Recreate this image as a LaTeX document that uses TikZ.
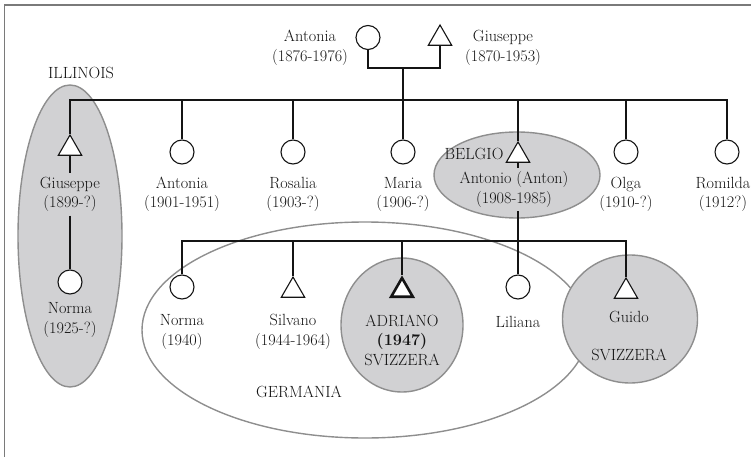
\documentclass[tikz,border=0pt]{standalone}
\usetikzlibrary{shapes.geometric}
\definecolor{regionfill}{HTML}{D1D1D3}
\definecolor{regionline}{HTML}{8E8E8E}
\definecolor{framegray}{HTML}{7A7A7A}
\definecolor{inkcol}{HTML}{141414}
\tikzset{
  fem/.style={circle, draw=inkcol, fill=white, line width=1.1pt, minimum size=24pt, inner sep=0pt},
  mal/.style={regular polygon, regular polygon sides=3, draw=inkcol, fill=white, line width=1.1pt, minimum size=27pt, inner sep=0pt},
  egomal/.style={mal, line width=2.6pt, minimum size=25pt},
  lbl/.style={align=center, text=inkcol, font=\fontsize{16.2}{19.5}\selectfont, inner sep=3.5pt},
  region/.style={ellipse, draw=regionline, fill=regionfill, line width=1.4pt, inner sep=0pt},
  hollowregion/.style={ellipse, draw=regionline, line width=1.4pt, inner sep=0pt},
  link/.style={draw=inkcol, line width=1.1pt},
}
\begin{document}
\begin{tikzpicture}[x=1pt,y=-1pt]
\useasboundingbox (0,0) rectangle (751,457);
% frame
\draw[framegray, line width=1.3pt] (4.5,458) -- (4.5,5) -- (752,5);

% regions
\node[hollowregion, minimum width=446pt, minimum height=216pt] (germania) at (365,330) {};
\node[region, minimum width=104pt, minimum height=302pt] (illinois) at (70,236) {};
\node[region, minimum width=166pt, minimum height=86pt] (belgio) at (517,175) {};
\node[region, minimum width=122pt, minimum height=134pt] (adrianoreg) at (402,325) {};
\node[region, minimum width=135pt, minimum height=128pt] (guidoreg) at (630,319) {};

% symbols generation 1
\node[fem] (antonia0) at (368,37.5) {};
\node[mal] (giuseppe0) at (440,38.5) {};
% generation 2
\node[mal] (giuseppe1) at (70,148.5) {};
\node[fem] (antonia1) at (182,152) {};
\node[fem] (rosalia) at (293,152) {};
\node[fem] (maria) at (403,152) {};
\node[mal] (antonio) at (518,155.5) {};
\node[fem] (olga) at (626,152) {};
\node[fem] (romilda) at (727,152) {};
% generation 3
\node[fem] (norma1) at (70,282) {};
\node[fem] (norma2) at (182,287) {};
\node[mal] (silvano) at (293,290.5) {};
\node[egomal] (adriano) at (402,290.5) {};
\node[fem] (liliana) at (518,287) {};
\node[mal] (guido) at (626,291.5) {};

% labels
\node[lbl] (antonia0L) at (310,48) {Antonia\\(1876-1976)};
\node[lbl] (giuseppe0L) at (503,48) {Giuseppe\\(1870-1953)};
\node[lbl] (illinoisL) at (81,73) {ILLINOIS};
\node[lbl] (giuseppe1L) at (70,194.5) {Giuseppe\\(1899-?)};
\node[lbl] (antonia1L) at (182,194.5) {Antonia\\(1901-1951)};
\node[lbl] (rosaliaL) at (293,194.5) {Rosalia\\(1903-?)};
\node[lbl] (mariaL) at (403,194.5) {Maria\\(1906-?)};
\node[lbl] (belgioL) at (474,154) {BELGIO};
\node[lbl] (antonioL) at (514,189.5) {Antonio (Anton)\\(1908-1985)};
\node[lbl] (olgaL) at (626,194.5) {Olga\\(1910-?)};
\node[lbl] (romildaL) at (723,194.5) {Romilda\\(1912?)};
\node[lbl] (norma1L) at (70,320) {Norma\\(1925-?)};
\node[lbl] (norma2L) at (182,332) {Norma\\(1940)};
\node[lbl] (silvanoL) at (293,332) {Silvano\\(1944-1964)};
\node[lbl] (adrianoL) at (402,340) {ADRIANO\\\textbf{(1947)}\\SVIZZERA};
\node[lbl] (lilianaL) at (518,322) {Liliana};
\node[lbl] (guidoL) at (629,317) {Guido};
\node[lbl] (guidoC) at (629,355) {SVIZZERA};
\node[lbl] (germaniaL) at (299,392) {GERMANIA};

% connectors
\coordinate (couple) at (403,68);
\coordinate (sibs) at (403,100);
\coordinate (kids) at (518,241);
\draw[link] (antonia0.south) |- (couple) -| (giuseppe0.south);
\draw[link] (couple) -- (maria.north);
\draw[link] (giuseppe1.north) -- (giuseppe1.north |- sibs) -- (romilda.north |- sibs) -- (romilda.north);
\draw[link] (antonia1.north |- sibs) -- (antonia1.north);
\draw[link] (rosalia.north |- sibs) -- (rosalia.north);
\draw[link] (antonio.north |- sibs) -- (antonio.north);
\draw[link] (olga.north |- sibs) -- (olga.north);
\draw[link] (giuseppe1.south) -- (giuseppe1L.north);
\draw[link] (giuseppe1L.south) -- (norma1.north);
\draw[link] (antonio.south) -- (antonio.south |- antonioL.north);
\draw[link] (antonio.south |- antonioL.south) -- (kids);
\draw[link] (norma2.north) -- (norma2.north |- kids) -- (guido.north |- kids) -- (guido.north);
\draw[link] (silvano.north |- kids) -- (silvano.north);
\draw[link] (adriano.north |- kids) -- (adriano.north);
\draw[link] (liliana.north |- kids) -- (liliana.north);
\end{tikzpicture}
\end{document}
